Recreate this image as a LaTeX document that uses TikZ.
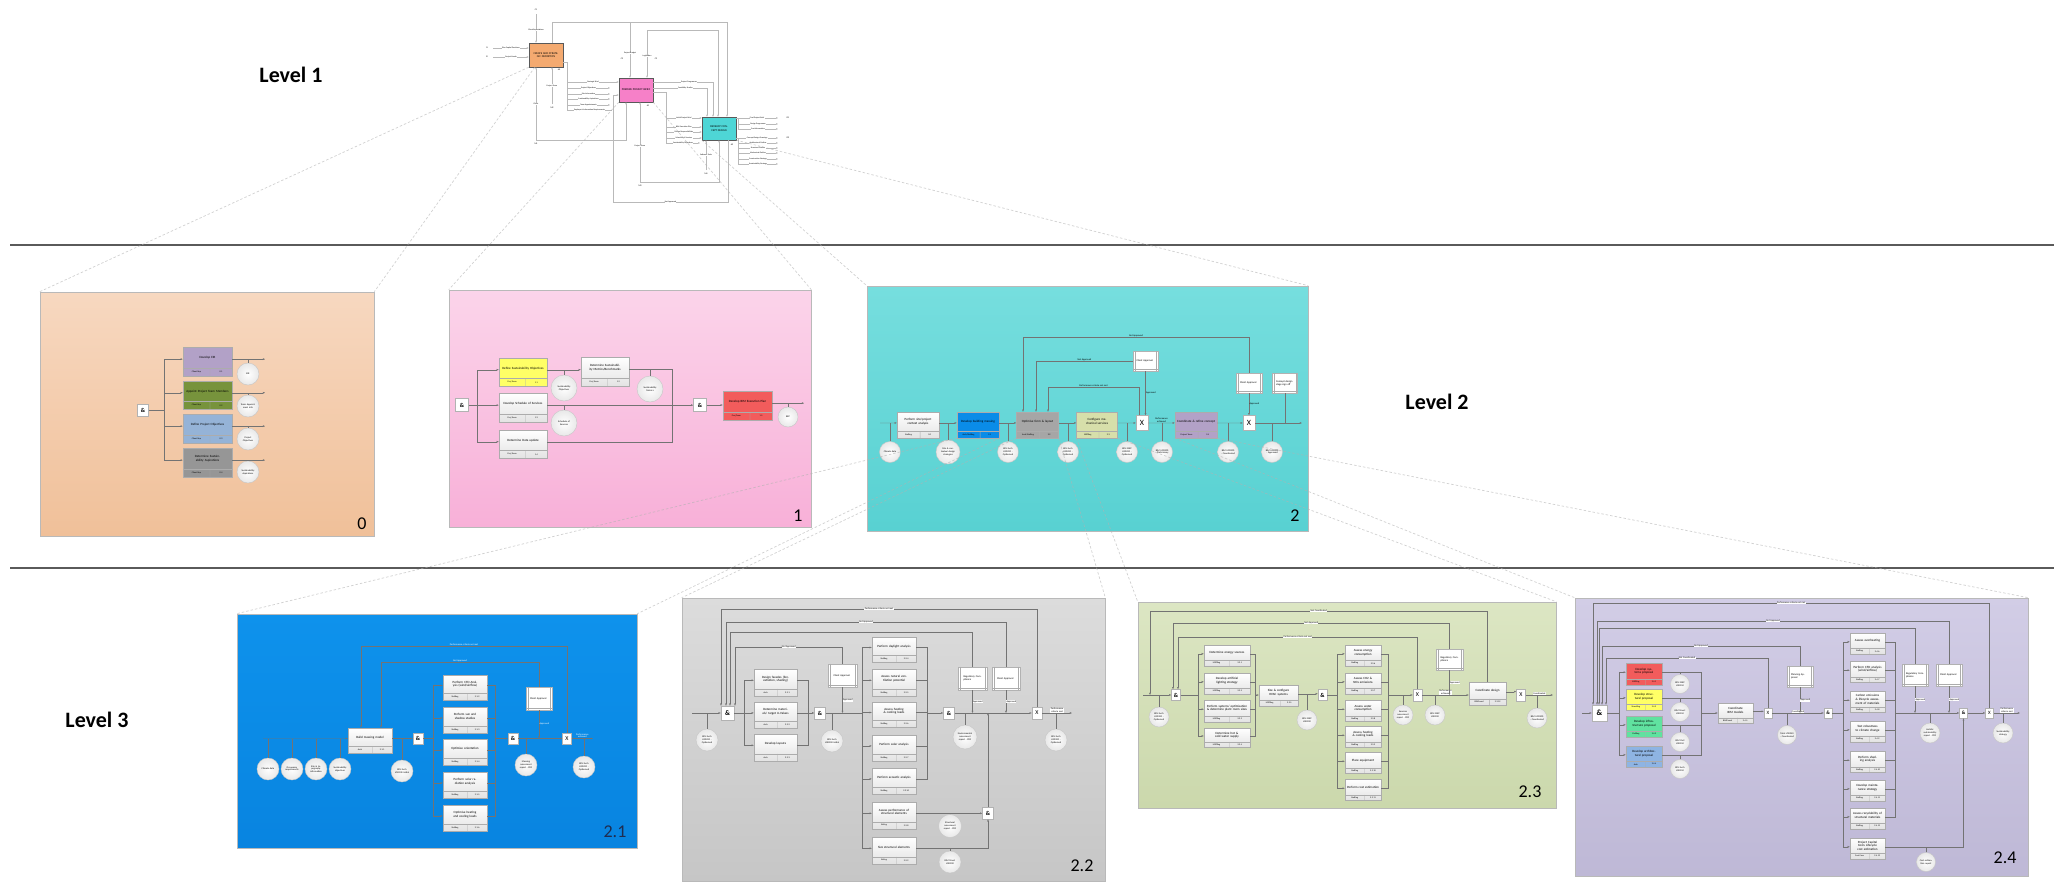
\documentclass[tikz,border=0pt]{standalone}
\usepackage{fontspec}
\setmainfont{Carlito}
\usepackage{tikz}
\usetikzlibrary{calc,shapes,arrows,arrows.meta,backgrounds,fit}

\definecolor{p0top}{RGB}{247,216,192}
\definecolor{p0bot}{RGB}{240,192,153}
\definecolor{p1top}{RGB}{251,212,234}
\definecolor{p1bot}{RGB}{248,176,216}
\definecolor{p2top}{RGB}{118,222,222}
\definecolor{p2bot}{RGB}{88,209,210}
\definecolor{p21top}{RGB}{14,146,236}
\definecolor{p21bot}{RGB}{8,132,224}
\definecolor{p22top}{RGB}{220,220,220}
\definecolor{p22bot}{RGB}{198,198,198}
\definecolor{p23top}{RGB}{220,230,195}
\definecolor{p23bot}{RGB}{203,216,172}
\definecolor{p24top}{RGB}{210,205,230}
\definecolor{p24bot}{RGB}{190,184,214}
\definecolor{actpurple}{RGB}{178,161,199}
\definecolor{actgreen}{RGB}{119,147,60}
\definecolor{actblue}{RGB}{149,179,215}
\definecolor{actgray}{RGB}{150,150,150}
\definecolor{actyellow}{RGB}{255,255,102}
\definecolor{actred}{RGB}{242,92,92}
\definecolor{actdeep}{RGB}{10,140,232}
\definecolor{actsilver}{RGB}{166,166,166}
\definecolor{actolive}{RGB}{215,223,170}
\definecolor{actmint}{RGB}{96,226,160}
\definecolor{actsteel}{RGB}{142,180,227}
\definecolor{idefor}{RGB}{244,170,112}
\definecolor{idefpk}{RGB}{246,128,200}
\definecolor{idefcy}{RGB}{78,214,214}
\definecolor{navy}{RGB}{31,45,80}
\definecolor{sepgray}{RGB}{90,90,90}

% activity box: name, centre, width, height, fill, text, staff, number
\newcommand{\actbox}[8]{%
  \node[actnode, #5, minimum width=#3, minimum height=#4] (#1) at (#2) {};
  \coordinate (#1-a) at ($(#1.south west)!0.27!(#1.north west)$);
  \coordinate (#1-b) at ($(#1.south east)!0.27!(#1.north east)$);
  \coordinate (#1-m) at ($(#1-a)!0.5!(#1.south west)$);
  \coordinate (#1-n) at ($(#1-b)!0.5!(#1.south east)$);
  \coordinate (#1-i) at ($(#1.north west)!0.42!(#1.south west)$);
  \coordinate (#1-o) at ($(#1.north east)!0.42!(#1.south east)$);
  \pgfmathsetmacro{\acttw}{#3-4}
  \node[acttext, text width=\acttw pt] (#1-t) at ($(#1.north)!0.37!(#1.south)$) {#6};
  \draw[actrule] (#1-a) -- (#1-b);
  \draw[actrule] ($(#1-a)!0.55!(#1-b)$) -- ($(#1.south west)!0.55!(#1.south east)$);
  \node[celltext] (#1-s) at ($(#1-m)!0.275!(#1-n)$) {#7};
  \node[celltext] (#1-k) at ($(#1-m)!0.775!(#1-n)$) {#8};
}
% referent box: name, centre, text, width, height
\newcommand{\refdoc}[5]{%
  \node[refbox, minimum width=#4, minimum height=#5] (#1) at (#2) {#3};
  \draw[actrule] ([xshift=2pt]#1.north west) -- ([xshift=2pt]#1.south west);
  \draw[actrule] ([xshift=-2pt]#1.north east) -- ([xshift=-2pt]#1.south east);
  \draw[actrule] ([yshift=2pt]#1.south west) -- ([yshift=2pt]#1.south east);
}

\begin{document}
\begin{tikzpicture}[x=1pt, y=-1pt]

  \tikzstyle{sepline}=[draw=sepgray, line width=2.4pt]
  \tikzstyle{levellab}=[font=\fontsize{22}{24}\selectfont\bfseries]
  \tikzstyle{panel}=[draw=gray!55, line width=0.6pt, rectangle, inner sep=0pt]
  \tikzstyle{panlab}=[font=\fontsize{18}{18}\selectfont, inner sep=0pt]
  \tikzstyle{zoomline}=[draw=gray!60, dash pattern=on 2.5pt off 2pt, line width=0.7pt, opacity=0.6]
  \tikzstyle{idefbox}=[draw=gray!70!black, rectangle, line width=0.3pt, minimum width=34, minimum height=24, inner sep=0pt, text width=30pt, align=center, font=\fontsize{2.8}{3.2}\selectfont]
  \tikzstyle{ideflab}=[font=\fontsize{2}{2.4}\selectfont, fill=white, inner sep=0.3pt]
  \tikzstyle{idefnum}=[font=\fontsize{2.2}{2.4}\selectfont, inner sep=0pt]
  \tikzstyle{ideflow}=[draw=gray!55, line width=0.2pt]
  \tikzstyle{idefptr}=[ideflow, -{Latex[length=2pt,width=1.6pt]}]
  \tikzstyle{actnode}=[draw=gray!65, rectangle, line width=0.3pt, inner sep=0pt]
  \tikzstyle{plainact}=[top color=white, bottom color=gray!22]
  \tikzstyle{acttext}=[font=\fontsize{3.2}{3.7}\selectfont, align=center, inner sep=0pt]
  \tikzstyle{actrule}=[draw=gray!65, line width=0.3pt]
  \tikzstyle{celltext}=[font=\fontsize{2.2}{2.4}\selectfont, inner sep=0pt]
  \tikzstyle{datnode}=[circle, draw=gray!45, inner color=white, outer color=gray!18, minimum size=21pt, inner sep=0pt, text width=16pt, align=center, font=\fontsize{2.4}{2.8}\selectfont]
  \tikzstyle{junction}=[rectangle, draw=gray!60, fill=white, minimum width=11pt, minimum height=12pt, inner sep=0pt, font=\fontsize{6}{6}\selectfont\bfseries]
  \tikzstyle{refbox}=[rectangle, draw=gray!60, fill=white, inner sep=0pt, text width=18pt, align=left, font=\fontsize{2.6}{3}\selectfont]
  \tikzstyle{flow}=[draw=black!55, line width=0.28pt]
  \tikzstyle{pointer}=[flow, -{Latex[length=2.2pt,width=1.8pt]}]
  \tikzstyle{looplab}=[font=\fontsize{2.4}{2.8}\selectfont, inner sep=0.4pt]

  \useasboundingbox (0,0) rectangle (2054,894);

  % separators
  \draw[sepline] (10,245) -- (2054,245);
  \draw[sepline] (10,568) -- (2054,568);
  \node[levellab] (lev1) at (291,75) {Level 1};
  \node[levellab] (lev2) at (1437,402) {Level 2};
  \node[levellab] (lev3) at (97,720) {Level 3};

  % panels
  \node[panel, top color=p0top, bottom color=p0bot, minimum width=334, minimum height=244] (pan0) at (207,414) {};
  \node[panel, top color=p1top, bottom color=p1bot, minimum width=362, minimum height=237] (pan1) at (630,408.5) {};
  \node[panel, top color=p2top, bottom color=p2bot, minimum width=441, minimum height=245] (pan2) at (1087.5,408.5) {};
  \node[panel, top color=p21top, bottom color=p21bot, minimum width=400, minimum height=234] (pan21) at (437,731) {};
  \node[panel, top color=p22top, bottom color=p22bot, minimum width=423, minimum height=283] (pan22) at (893.5,739.5) {};
  \node[panel, top color=p23top, bottom color=p23bot, minimum width=418, minimum height=206] (pan23) at (1347,705) {};
  \node[panel, top color=p24top, bottom color=p24bot, minimum width=453, minimum height=278] (pan24) at (1801.5,737) {};

  % ---------------- level 1 ----------------
  \node[idefbox, fill=idefor] (a0) at (546,55) {CREATE AND STRATEGIC DEFINITION};
  \node[idefbox, fill=idefpk] (a1) at (636,90) {PREPARE PROJECT BRIEF};
  \node[idefbox, fill=idefcy, minimum height=23] (a2) at (719,128.5) {DEVELOP CONCEPT DESIGN};
  \node[idefnum] (a0n) at (559,70) {A0};
  \node[idefnum] (a1n) at (648,106) {A1};
  \node[idefnum] (a2n) at (732,145) {A2};

  \coordinate (a0i1) at (493,48);
  \coordinate (a0i2) at (493,57);
  \coordinate (a0c1) at (536,14);
  \coordinate (bus1) at (552,22);
  \coordinate (bus2) at (727,22);
  \coordinate (bus3) at (630,22);
  \coordinate (bus4) at (647,30);
  \coordinate (bus5) at (718,30);
  \coordinate (a0o) at (567,62);
  \coordinate (a0ob) at (567,110);
  \coordinate (a0e2) at (610,88);
  \coordinate (a0e3) at (610,94);
  \coordinate (a0e4) at (610,99);
  \coordinate (a0e5) at (610,105);
  \coordinate (a0e6) at (612,110);
  \coordinate (a1o) at (666,92);
  \coordinate (a1e5) at (700,143);
  \coordinate (a2o1) at (738,118);
  \coordinate (a2o2) at (738,138);
  \coordinate (a2e1) at (778,118);
  \coordinate (a2e2) at (778,124);
  \coordinate (a2e3) at (778,129);
  \coordinate (a2e4) at (778,138);
  \coordinate (a2e5) at (778,143);
  \coordinate (a2e6) at (778,148);
  \coordinate (a2e7) at (778,153);
  \coordinate (a2e8) at (778,159);
  \coordinate (a2e9) at (778,164);
  \coordinate (a0m1) at (536,140);
  \coordinate (a0m2) at (552,104);
  \coordinate (a1m1) at (640,182);
  \coordinate (a2m1) at (706,170);
  \coordinate (fb1) at (613,202);

  \node[idefnum] (ti1) at (487,48) {I1};
  \node[idefnum] (ti2) at (487,57) {I2};
  \node[idefnum] (tc1) at (536,10) {C1};
  \node[idefnum] (tc2) at (622,59) {C2};
  \node[idefnum] (tc3) at (656,59) {C3};
  \node[idefnum] (tm1) at (536,144) {M1};
  \node[idefnum] (tm2) at (552,108) {M2};
  \node[idefnum] (tm3) at (640,186) {M3};
  \node[idefnum] (tm4) at (706,174) {M4};
  \node[idefnum] (to1) at (788,118) {O1};
  \node[idefnum] (to2) at (788,138) {O2};

  \draw[idefptr] (a0i1) -- node[ideflab]{Plan Capital Decisions} (a0i1 -| a0.west);
  \draw[idefptr] (a0i2) -- node[ideflab]{Project Needs} (a0i2 -| a0.west);
  \draw[idefptr] (a0c1) -- node[ideflab, pos=0.55]{Client Expectations} (a0c1 |- a0.north);
  \draw[ideflow] (bus1 |- a0.north) -- (bus1) -- (bus2);
  \draw[idefptr] (bus2) -- (bus2 |- a2.north);
  \draw[idefptr] (bus3) -- node[ideflab, pos=0.55]{Project Budget} (bus3 |- a1.north);
  \draw[idefptr] (bus4) -- node[ideflab, pos=0.55]{Legislation} (bus4 |- a1.north);
  \draw[idefptr] (bus4) -- (bus5) -- (bus5 |- a2.north);
  \draw[ideflow] (a0.east |- a0o) -- (a0o) -- (a0ob);
  \draw[idefptr] (a0o) |- node[ideflab, pos=0.75]{Strategic Brief} ([yshift=8pt]a1.west);
  \draw[idefptr] (a0o) |- node[ideflab, pos=0.75]{Project Objectives} (a0e2);
  \draw[idefptr] (a0o) |- node[ideflab, pos=0.75]{Site Information} (a0e3);
  \draw[idefptr] (a0o) |- node[ideflab, pos=0.75]{Sustainability Aspirations} (a0e4);
  \draw[idefptr] (a0o) |- node[ideflab, pos=0.75]{Team Appointments} (a0e5);
  \draw[ideflow] (a0o) |- node[ideflab, pos=0.75]{Employer's Information Requirements} (a0e6);
  \draw[idefptr] ([yshift=8pt]a1.east) -| node[ideflab, pos=0.3]{Project Programme} ([xshift=-6pt]a2.north);
  \draw[idefptr] ([yshift=2pt]a1.east) -| node[ideflab, pos=0.3]{Feasibility Studies} ([xshift=-12pt]a2.north);
  \draw[ideflow] ([yshift=-2pt]a1.east) -- (a1o);
  \draw[idefptr] (a1o) |- node[ideflab, pos=0.75]{Initial Project Brief} ([yshift=10.5pt]a2.west);
  \draw[idefptr] (a1o) |- node[ideflab, pos=0.75]{BIM Execution Plan} ([yshift=1.5pt]a2.west);
  \draw[idefptr] (a1o) |- node[ideflab, pos=0.75]{Design Responsibilities} ([yshift=-3.5pt]a2.west);
  \draw[idefptr] (a1o) |- node[ideflab, pos=0.75]{Schedule of Services} ([yshift=-9.5pt]a2.west);
  \draw[idefptr] (a1o) |- node[ideflab, pos=0.75]{Sustainability Objectives} (a1e5);
  \draw[idefptr] ([yshift=10.5pt]a2.east) -- node[ideflab]{Final Project Brief} (a2e1);
  \draw[ideflow] (a2o1) -- (a2o1 |- a2e3);
  \draw[idefptr] (a2o1) |- node[ideflab, pos=0.75]{Design Programme} (a2e2);
  \draw[idefptr] (a2o1) |- node[ideflab, pos=0.75]{Cost Information} (a2e3);
  \draw[idefptr] ([yshift=-9.5pt]a2.east) -- node[ideflab]{Concept Design Drawings} (a2e4);
  \draw[idefptr] (a2o2) |- node[ideflab, pos=0.75]{Architectural Outline} (a2e5);
  \draw[idefptr] (a2o2) |- node[ideflab, pos=0.75]{Structural Outline} (a2e6);
  \draw[idefptr] (a2o2) |- node[ideflab, pos=0.75]{Mechanical Outline} (a2e7);
  \draw[idefptr] (a2o2) |- node[ideflab, pos=0.75]{Construction Strategy} (a2e8);
  \draw[idefptr] (a2o2) |- node[ideflab, pos=0.75]{Sustainability Strategy} (a2e9);
  \draw[idefptr] (a0m1) -- node[ideflab]{Client} (a0m1 |- a0.south);
  \draw[idefptr] (a0m1) -| ([xshift=-10pt]a1.south);
  \draw[idefptr] (a0m2) -- node[ideflab]{Project Team} (a0m2 |- a0.south);
  \draw[idefptr] (a1m1) -- node[ideflab, pos=0.45]{Project Team} ([xshift=4pt]a1.south);
  \draw[idefptr] (a1m1) -| (a2.south);
  \draw[idefptr] (a2m1) -- node[ideflab]{Software Tools} ([xshift=-13pt]a2.south);
  \draw[idefptr] ([xshift=9pt]a2.south) |- node[ideflab, pos=0.75]{Not Approved} (fb1) |- ([yshift=-5pt]a1.west);

  % ---------------- panel 0 ----------------
  \node[junction] (p0j) at (143,410) {\&};
  \coordinate (p0f) at (164,410);
  \actbox{p0b1}{207.5,361.5}{49}{29}{fill=actpurple}{Develop EIR}{Client Rep}{0.1}
  \actbox{p0b2}{207.5,395}{49}{28}{fill=actgreen}{Appoint Project Team Members}{Client Rep}{0.2}
  \actbox{p0b3}{207.5,428.5}{49}{29}{fill=actblue}{Define Project Objectives}{Client Rep}{0.3}
  \actbox{p0b4}{207.5,462.5}{49}{29}{fill=actgray}{Determine Sustainability Aspirations}{Client Rep}{0.4}
  \node[datnode, minimum size=22pt] (p0c1) at (248,374) {EIR};
  \node[datnode, minimum size=22pt] (p0c2) at (248,406) {Team Appointment Info};
  \node[datnode, minimum size=22pt] (p0c3) at (248,439) {Project Objectives};
  \node[datnode, minimum size=22pt] (p0c4) at (248,472) {Sustainability Aspirations};
  \coordinate (p0e1) at ($(p0b1-o)+(33,0)$);
  \coordinate (p0e2) at ($(p0b2-o)+(33,0)$);
  \coordinate (p0e3) at ($(p0b3-o)+(33,0)$);
  \coordinate (p0e4) at ($(p0b4-o)+(33,0)$);
  \node[panlab] (p0n) at (362,524) {0};

  \draw[flow] (p0j) -- (p0f);
  \draw[pointer] (p0f) |- (p0b1-i);
  \draw[pointer] (p0f) |- (p0b2-i);
  \draw[pointer] (p0f) |- (p0b3-i);
  \draw[pointer] (p0f) |- (p0b4-i);
  \draw[pointer] (p0b1-o) -- (p0e1);
  \draw[pointer] (p0b2-o) -- (p0e2);
  \draw[pointer] (p0b3-o) -- (p0e3);
  \draw[pointer] (p0b4-o) -- (p0e4);
  \draw[flow] (p0c1) -- (p0c1 |- p0b1-o);
  \draw[flow] (p0c2) -- (p0c2 |- p0b2-o);
  \draw[flow] (p0c3) -- (p0c3 |- p0b3-o);
  \draw[flow] (p0c4) -- (p0c4 |- p0b4-o);

  % ---------------- panel 1 ----------------
  \node[junction, minimum width=13pt, minimum height=13pt] (p1j1) at (462,405) {\&};
  \coordinate (p1f) at (477,405);
  \actbox{p1b1}{523,372}{48}{28}{fill=actyellow}{Define Sustainability Objectives}{Proj Team}{1.1}
  \actbox{p1b3}{523,407.5}{48}{29}{plainact}{Develop Schedule of Services}{Proj Team}{1.3}
  \actbox{p1b4}{523,444}{48}{28}{plainact}{Determine Data update}{Proj Team}{1.4}
  \actbox{p1b2}{605,371.5}{48}{29}{plainact}{Determine Sustainability Metrics/Benchmarks}{Proj Team}{1.2}
  \actbox{p1b5}{747.5,405.5}{49}{29}{fill=actred}{Develop BIM Execution Plan}{Proj Team}{1.5}
  \node[junction, minimum width=13pt, minimum height=13pt] (p1j2) at (700,405) {\&};
  \coordinate (p1m) at (672,405);
  \node[datnode, minimum size=26pt, text width=19pt] (p1c1) at (564,388) {Sustainability Objectives};
  \node[datnode, minimum size=26pt, text width=19pt] (p1c2) at (650,389) {Sustainability Metrics};
  \node[datnode, minimum size=26pt, text width=19pt] (p1c3) at (564,423) {Schedule of Services};
  \node[datnode, minimum size=20pt] (p1c4) at (788,417) {BEP};
  \coordinate (p1e) at ($(p1b5-o)+(32,0)$);
  \node[panlab] (p1n) at (798,516) {1};

  \draw[flow] (p1j1) -- (p1f);
  \draw[pointer] (p1f) |- (p1b1-i);
  \draw[pointer] (p1f) |- (p1b3-i);
  \draw[pointer] (p1f) |- (p1b4-i);
  \draw[pointer] (p1b1-o) -- (p1b1-o -| p1b2.west);
  \draw[flow] (p1b2-o) -| (p1m);
  \draw[flow] (p1b4-o) -| (p1m);
  \draw[pointer] (p1b3-o) -- (p1b3-o -| p1j2.west);
  \draw[pointer] (p1j2) -- (p1j2 -| p1b5.west);
  \draw[pointer] (p1b5-o) -- (p1e);
  \draw[flow] (p1c1) -- (p1c1 |- p1b1-o);
  \draw[flow] (p1c2) -- (p1c2 |- p1b2-o);
  \draw[flow] (p1c3) -- (p1c3 |- p1b3-o);
  \draw[flow] (p1c4) -- (p1c4 |- p1b5-o);

  % ---------------- panel 2 ----------------
  \coordinate (p2s) at (880,423);
  \coordinate (p2e) at (1302,423);
  \actbox{p2b0}{918,425}{42}{26}{plainact}{Perform site/project context analysis}{Staffing}{2.0}
  \actbox{p2b1}{978,425}{42}{26}{fill=actdeep}{Develop building massing}{Arch/Staffing}{2.1}
  \actbox{p2b2}{1037.5,425}{42}{26}{fill=actsilver}{Optimise form \& layout}{Arch/Staffing}{2.2}
  \actbox{p2b3}{1097,425}{41}{26}{fill=actolive}{Configure mechanical services}{MEPEng}{2.3}
  \actbox{p2b4}{1196,425}{42}{26}{fill=actpurple}{Coordinate \& refine concept}{Project Team}{2.4}
  \node[junction, minimum width=12pt, minimum height=15pt, font=\fontsize{8}{8}\selectfont] (p2x1) at (1142,423) {X};
  \node[junction, minimum width=12pt, minimum height=15pt, font=\fontsize{8}{8}\selectfont] (p2x2) at (1249,423) {X};
  \refdoc{p2d1}{1145.5,361}{Client Approval}{25}{20}
  \refdoc{p2d2}{1249,383}{Client Approval}{26}{20}
  \refdoc{p2d3}{1285,383}{Concept design stage sign off}{25}{20}
  \node[datnode] (p2c1) at (890,452) {Climate data};
  \node[datnode, minimum size=24pt] (p2c2) at (948,452) {Site \& contextual design strategies};
  \node[datnode] (p2c3) at (1008,452) {BIM Arch LOD200 - Optimised};
  \node[datnode] (p2c4) at (1068,452) {BIM Arch LOD200 - Optimised};
  \node[datnode] (p2c5) at (1127,452) {BIM MEP LOD200 - Optimised};
  \node[datnode] (p2c6) at (1162,452) {BIM LOD200 - Preliminary};
  \node[datnode] (p2c7) at (1228,452) {BIM LOD200 - Coordinated};
  \node[datnode] (p2c8) at (1272,452) {BIM LOD200 - Approved};
  \coordinate (p2l1) at (1023,337);
  \coordinate (p2l2) at (1036,361);
  \coordinate (p2l3) at (1048,387);
  \node[panlab] (p2n) at (1295,516) {2};

  \draw[pointer] (p2s) -- (p2b0-i);
  \draw[pointer] (p2b0-o) -- (p2b1-i);
  \draw[pointer] (p2b1-o) -- (p2b2-i);
  \draw[pointer] (p2b2-o) -- (p2b3-i);
  \draw[pointer] (p2b3-o) -- (p2x1);
  \draw[pointer] (p2x1) -- node[above, looplab, text width=13pt, align=center]{Performance achieved} (p2b4-i);
  \draw[pointer] (p2b4-o) -- (p2x2);
  \draw[pointer] (p2x2) -- (p2e);
  \draw[pointer] (p2d1) -- node[right, looplab]{Approved} (p2d1 |- p2x1.north);
  \draw[pointer] (p2d2) -- node[right, looplab]{Approved} (p2d2 |- p2x2.north);
  \draw[flow] (p2d3) -- (p2d3 |- p2e);
  \draw[pointer] (p2d2.north) |- node[pos=0.75, above, looplab]{Not Approved} (p2l1) -- (p2l1 |- p2b2.north);
  \draw[pointer] (p2d1.west) -- node[above, looplab]{Not Approved} (p2l2) -- (p2l2 |- p2b2.north);
  \draw[pointer] ([xshift=-3pt]p2x1.north) |- node[pos=0.75, above, looplab]{Performance criteria not met} (p2l3) -- (p2l3 |- p2b2.north);
  \draw[flow] (p2c1) -- (p2c1 |- p2s);
  \draw[flow] (p2c2) -- (p2c2 |- p2s);
  \draw[flow] (p2c3) -- (p2c3 |- p2s);
  \draw[flow] (p2c4) -- (p2c4 |- p2s);
  \draw[flow] (p2c5) -- (p2c5 |- p2s);
  \draw[flow] (p2c6) -- (p2c6 |- p2s);
  \draw[flow] (p2c7) -- (p2c7 |- p2s);
  \draw[flow] (p2c8) -- (p2c8 |- p2s);

  % ---------------- panel 2.1 ----------------
  \coordinate (p21s) at (263,738.5);
  \actbox{p21b1}{370,740.5}{44}{25}{plainact}{Build massing model}{Arch}{2.1.1}
  \node[junction, minimum width=10pt, minimum height=11pt] (p21j1) at (418,738.5) {\&};
  \coordinate (p21f) at (433,738.5);
  \actbox{p21b2}{465,687.5}{44}{25}{plainact}{Perform CFD Analysis (wind/airflow)}{Staffing}{2.1.2}
  \actbox{p21b3}{465,720}{44}{26}{plainact}{Perform sun and shadow studies}{Staffing}{2.1.3}
  \actbox{p21b4}{465,752}{44}{26}{plainact}{Optimise orientation}{Staffing}{2.1.4}
  \actbox{p21b5}{465,785}{44}{26}{plainact}{Perform solar radiation analysis}{Staffing}{2.1.5}
  \actbox{p21b6}{465,818}{44}{26}{plainact}{Optimise heating and cooling loads}{Staffing}{2.1.6}
  \coordinate (p21m) at (495,738.5);
  \node[junction, minimum width=10pt, minimum height=11pt] (p21j2) at (513,738.5) {\&};
  \node[junction, minimum width=9pt, minimum height=11pt, font=\fontsize{6}{6}\selectfont] (p21x) at (567,738.5) {X};
  \coordinate (p21e) at (593,738.5);
  \refdoc{p21d}{539,698.5}{Client Approval}{26}{23}
  \node[datnode, minimum size=22pt] (p21c1) at (268,769) {Climate data};
  \node[datnode, minimum size=22pt] (p21c2) at (292,769) {Occupancy requirements};
  \node[datnode, minimum size=22pt] (p21c3) at (316,769) {Site \& topography information};
  \node[datnode, minimum size=22pt] (p21c4) at (340,769) {Sustainability objectives};
  \node[datnode, minimum size=22pt] (p21c5) at (402,771) {BIM Arch LOD100 Initial};
  \node[datnode, minimum size=22pt] (p21c6) at (526,765) {Massing assessment report - PDF};
  \node[datnode, minimum size=22pt] (p21c7) at (584,767) {BIM Arch LOD200 - Optimised};
  \coordinate (p21l1) at (361,646);
  \coordinate (p21l2) at (381,662);
  \node[panlab, text=navy] (p21n) at (615,832) {2.1};

  \draw[pointer] (p21s) -- (p21b1-i);
  \draw[pointer] (p21b1-o) -- (p21b1-o -| p21j1.west);
  \draw[flow] (p21j1) -- (p21f);
  \draw[pointer] (p21f) |- (p21b2-i);
  \draw[pointer] (p21f) |- (p21b3-i);
  \draw[pointer] (p21f) |- (p21b4-i);
  \draw[pointer] (p21f) |- (p21b5-i);
  \draw[pointer] (p21f) |- (p21b6-i);
  \draw[flow] (p21b2-o) -| (p21m);
  \draw[flow] (p21b3-o) -| (p21m);
  \draw[flow] (p21b4-o) -| (p21m);
  \draw[flow] (p21b5-o) -| (p21m);
  \draw[flow] (p21b6-o) -| (p21m);
  \draw[pointer] (p21m) -- (p21j2);
  \draw[pointer] (p21j2) -- (p21x);
  \draw[pointer] (p21x) -- node[above, looplab, text=white, text width=13pt, align=center]{Performance achieved} (p21e);
  \draw[pointer] (p21d) -- node[right, looplab, text=white]{Approved} (p21d |- p21s);
  \draw[pointer] (p21x.north) |- node[pos=0.75, above, looplab, text=white]{Performance criteria not met} (p21l1) -- (p21l1 |- p21b1.north);
  \draw[pointer] (p21d.north) |- node[pos=0.75, above, looplab, text=white]{Not Approved} (p21l2) -- (p21l2 |- p21b1.north);
  \draw[flow] (p21c1) -- (p21c1 |- p21s);
  \draw[flow] (p21c2) -- (p21c2 |- p21s);
  \draw[flow] (p21c3) -- (p21c3 |- p21s);
  \draw[flow] (p21c4) -- (p21c4 |- p21s);
  \draw[flow] (p21c5) -- (p21c5 |- p21s);
  \draw[flow] (p21c6) -- (p21c6 |- p21s);
  \draw[flow] (p21c7) -- (p21c7 |- p21s);

  % ---------------- panel 2.2 ----------------
  \coordinate (p22s) at (692,713);
  \node[junction, minimum width=13pt, minimum height=14pt, font=\fontsize{7}{7}\selectfont\bfseries] (p22j1) at (727.5,713) {\&};
  \coordinate (p22f1) at (744,713);
  \actbox{p22b1}{775.5,682.5}{43}{27}{plainact}{Design facades (fenestration, shading)}{Arch}{2.2.1}
  \actbox{p22b2}{775.5,715}{43}{26}{plainact}{Determine materials/ target U-Values}{Arch}{2.2.2}
  \actbox{p22b3}{775.5,747.5}{43}{27}{plainact}{Develop layouts}{Arch}{2.2.3}
  \coordinate (p22m1) at (808,713);
  \node[junction] (p22j2) at (820,713) {\&};
  \refdoc{p22d1}{842.5,675.5}{Client Approval}{29}{23}
  \coordinate (p22f2) at (862,713);
  \actbox{p22b4}{894,649.5}{44}{25}{plainact}{Perform daylight analysis}{Staffing}{2.2.4}
  \actbox{p22b5}{894,682.5}{44}{27}{plainact}{Assess natural ventilation potential}{Staffing}{2.2.5}
  \actbox{p22b6}{894,714.5}{44}{25}{plainact}{Assess heating \& cooling loads}{Staffing}{2.2.6}
  \actbox{p22b7}{894,748}{44}{26}{plainact}{Perform solar analysis}{Staffing}{2.2.7}
  \actbox{p22b8}{894,781}{44}{26}{plainact}{Perform acoustic analysis}{Staffing}{2.2.10}
  \actbox{p22b9}{894,815.5}{44}{27}{plainact}{Assess performance of structural elements}{StrEng}{2.2.8}
  \actbox{p22b10}{894,850.5}{44}{27}{plainact}{Size structural elements}{StrEng}{2.2.9}
  \coordinate (p22m2) at (927,713);
  \node[junction] (p22j3) at (949,713) {\&};
  \node[junction] (p22j4) at (988,813) {\&};
  \refdoc{p22d2}{972.5,678.5}{Regulatory Compliance}{29}{23}
  \refdoc{p22d3}{1006,678.5}{Client Approval}{28}{23}
  \node[junction, minimum width=10pt, minimum height=12pt, font=\fontsize{6}{6}\selectfont] (p22x) at (1037,713) {X};
  \coordinate (p22e) at (1072,713);
  \node[datnode, minimum size=22pt] (p22c1) at (707,740) {BIM Arch LOD200 - Optimised};
  \node[datnode, minimum size=22pt] (p22c2) at (832,741) {BIM Arch LOD300 Initial};
  \node[datnode, minimum size=24pt] (p22c3) at (965,737) {Environmental assessment report - PDF};
  \node[datnode, minimum size=23pt] (p22c4) at (950,826) {Structural assessment report - PDF};
  \node[datnode, minimum size=22pt] (p22c5) at (950,862) {BIM Struct LOD300};
  \node[datnode, minimum size=22pt] (p22c6) at (1056,740) {BIM Arch LOD300 - Optimised};
  \coordinate (p22l1) at (721,609);
  \coordinate (p22l2) at (726,622);
  \coordinate (p22l3) at (730,632);
  \coordinate (p22l4) at (735,647);
  \node[panlab] (p22n) at (1082,866) {2.2};

  \draw[pointer] (p22s) -- (p22j1);
  \draw[flow] (p22j1) -- (p22f1);
  \draw[pointer] (p22f1) |- (p22b1-i);
  \draw[pointer] (p22f1) |- (p22b2-i);
  \draw[pointer] (p22f1) |- (p22b3-i);
  \draw[flow] (p22b1-o) -| (p22m1);
  \draw[flow] (p22b2-o) -| (p22m1);
  \draw[flow] (p22b3-o) -| (p22m1);
  \draw[pointer] (p22m1) -- (p22j2);
  \draw[flow] (p22j2) -- (p22f2);
  \draw[pointer] (p22f2) |- (p22b4-i);
  \draw[pointer] (p22f2) |- (p22b5-i);
  \draw[pointer] (p22f2) |- (p22b6-i);
  \draw[pointer] (p22f2) |- (p22b7-i);
  \draw[pointer] (p22f2) |- (p22b8-i);
  \draw[pointer] (p22f2) |- (p22b9-i);
  \draw[pointer] (p22f2) |- (p22b10-i);
  \draw[flow] (p22b4-o) -| (p22m2);
  \draw[flow] (p22b5-o) -| (p22m2);
  \draw[flow] (p22b6-o) -| (p22m2);
  \draw[flow] (p22b7-o) -| (p22m2);
  \draw[flow] (p22b8-o) -| (p22m2);
  \draw[pointer] (p22m2) -- (p22j3);
  \draw[pointer] (p22b9-o) -- (p22b9-o -| p22j4.west);
  \draw[pointer] (p22b10-o) -| (p22j4);
  \draw[pointer] (p22j4) -- (p22j4 |- p22s);
  \draw[pointer] (p22j3) -- (p22x);
  \draw[pointer] (p22x) -- node[above, looplab, fill=white, text width=13pt, align=center]{Performance criteria met} (p22e);
  \draw[pointer] (p22d1) -- node[right, looplab, fill=white]{Approved} (p22d1 |- p22s);
  \draw[pointer] (p22d2) -- node[right, looplab, fill=white]{Approved} (p22d2 |- p22s);
  \draw[pointer] (p22d3) -- node[right, looplab, fill=white]{Approved} (p22d3 |- p22s);
  \draw[pointer] (p22x.north) |- node[pos=0.75, looplab, fill=white]{Performance criteria not met} (p22l1) -- (p22l1 |- p22j1.north);
  \draw[pointer] (p22d3.north) |- node[pos=0.75, looplab, fill=white]{Not Approved} (p22l2) -- (p22l2 |- p22j1.north);
  \draw[pointer] (p22d2.north) |- (p22l3) -- (p22l3 |- p22j1.north);
  \draw[pointer] (p22d1.north) |- node[pos=0.75, looplab, fill=white]{Not Approved} (p22l4) -- (p22l4 |- p22j1.north);
  \draw[flow] (p22c1) -- (p22c1 |- p22s);
  \draw[flow] (p22c2) -- (p22c2 |- p22s);
  \draw[flow] (p22c3) -- (p22c3 |- p22s);
  \draw[flow] (p22c4) -- (p22c4 |- p22b9-o);
  \draw[flow] (p22c5) -- (p22c5 |- p22b10-o);
  \draw[flow] (p22c6) -- (p22c6 |- p22s);

  % ---------------- panel 2.3 ----------------
  \coordinate (p23s) at (1143,695);
  \node[junction, minimum width=9pt, minimum height=11pt] (p23j1) at (1176,695) {\&};
  \coordinate (p23f1) at (1198,695);
  \actbox{p23b1}{1227,655.5}{46}{21}{plainact}{Determine energy sources}{MEPEng}{2.3.1}
  \actbox{p23b2}{1227,683.5}{46}{21}{plainact}{Develop artificial lighting strategy}{MEPEng}{2.3.2}
  \actbox{p23b3}{1227,711}{46}{22}{plainact}{Perform systems' optimisation \& determine plant room sizes}{MEPEng}{2.3.3}
  \actbox{p23b4}{1227,737.5}{46}{19}{plainact}{Determine hot \& cold water supply}{MEPEng}{2.3.4}
  \coordinate (p23m1) at (1255,695);
  \actbox{p23b5}{1278.5,695.5}{39}{21}{plainact}{Size \& configure HVAC systems}{MEPEng}{2.3.5}
  \node[junction, minimum width=9pt, minimum height=11pt] (p23j2) at (1322.5,695) {\&};
  \coordinate (p23f2) at (1337,695);
  \actbox{p23b6}{1363,655.5}{36}{21}{plainact}{Assess energy consumption}{Staffing}{2.3.6}
  \actbox{p23b7}{1363,683.5}{36}{21}{plainact}{Assess CO2 \& NOx emissions}{Staffing}{2.3.7}
  \actbox{p23b8}{1363,711}{36}{21}{plainact}{Assess water consumption}{Staffing}{2.3.8}
  \actbox{p23b9}{1363,737}{36}{21}{plainact}{Assess heating \& cooling loads}{Staffing}{2.3.9}
  \actbox{p23b10}{1363,763}{36}{21}{plainact}{Place equipment}{Staffing}{2.3.10}
  \actbox{p23b11}{1363,790}{36}{21}{plainact}{Perform cost estimation}{Staffing}{2.3.11}
  \coordinate (p23m2) at (1388,695);
  \node[junction, minimum width=9pt, minimum height=12pt, font=\fontsize{6}{6}\selectfont] (p23x1) at (1417.5,695) {X};
  \refdoc{p23d1}{1449.5,659.5}{Regulatory Compliance}{27}{21}
  \actbox{p23b12}{1487.5,693.5}{37}{23}{plainact}{Coordinate design}{BIMCoord}{2.3.12}
  \node[junction, minimum width=9pt, minimum height=12pt, font=\fontsize{6}{6}\selectfont] (p23x2) at (1521,695) {X};
  \coordinate (p23e) at (1553,695);
  \node[datnode, minimum size=20pt] (p23c1) at (1159,717) {BIM Arch LOD300 - Optimised};
  \node[datnode, minimum size=20pt] (p23c2) at (1307,720) {BIM MEP LOD300};
  \node[datnode, minimum size=20pt] (p23c3) at (1403,715) {Services assessment report - PDF};
  \node[datnode, minimum size=20pt] (p23c4) at (1435,715) {BIM MEP LOD300};
  \node[datnode, minimum size=20pt] (p23c5) at (1537,718) {BIM LOD300 - Coordinated};
  \coordinate (p23l1) at (1150,611);
  \coordinate (p23l2) at (1173,623);
  \coordinate (p23l3) at (1178,637);
  \node[panlab] (p23n) at (1530,792) {2.3};

  \draw[pointer] (p23s) -- (p23j1);
  \draw[flow] (p23j1) -- (p23f1);
  \draw[pointer] (p23f1) |- (p23b1-i);
  \draw[pointer] (p23f1) |- (p23b2-i);
  \draw[pointer] (p23f1) |- (p23b3-i);
  \draw[pointer] (p23f1) |- (p23b4-i);
  \draw[flow] (p23b1-o) -| (p23m1);
  \draw[flow] (p23b2-o) -| (p23m1);
  \draw[flow] (p23b3-o) -| (p23m1);
  \draw[flow] (p23b4-o) -| (p23m1);
  \draw[pointer] (p23m1) -- (p23m1 -| p23b5.west);
  \draw[pointer] (p23b5-o) -- (p23b5-o -| p23j2.west);
  \draw[flow] (p23j2) -- (p23f2);
  \draw[pointer] (p23f2) |- (p23b6-i);
  \draw[pointer] (p23f2) |- (p23b7-i);
  \draw[pointer] (p23f2) |- (p23b8-i);
  \draw[pointer] (p23f2) |- (p23b9-i);
  \draw[pointer] (p23f2) |- (p23b10-i);
  \draw[pointer] (p23f2) |- (p23b11-i);
  \draw[flow] (p23b6-o) -| (p23m2);
  \draw[flow] (p23b7-o) -| (p23m2);
  \draw[flow] (p23b8-o) -| (p23m2);
  \draw[flow] (p23b9-o) -| (p23m2);
  \draw[flow] (p23b10-o) -| (p23m2);
  \draw[flow] (p23b11-o) -| (p23m2);
  \draw[pointer] (p23m2) -- (p23x1);
  \draw[pointer] (p23x1) -- node[above, looplab, fill=white, text width=13pt, align=center]{Performance achieved} (p23x1 -| p23b12.west);
  \draw[pointer] (p23b12-o) -- (p23b12-o -| p23x2.west);
  \draw[pointer] (p23x2) -- node[above, looplab, fill=white]{Coordinated} (p23e);
  \draw[pointer] (p23d1) -- node[right, looplab, fill=white]{Approved} (p23d1 |- p23s);
  \draw[pointer] (p23b12.north) |- node[pos=0.75, looplab, fill=white]{Not Coordinated} (p23l1) -- (p23l1 |- p23s);
  \draw[pointer] (p23d1.north) |- node[pos=0.75, looplab, fill=white]{Not Approved} (p23l2) -- (p23l2 |- p23j1.north);
  \draw[pointer] (p23x1.north) |- node[pos=0.75, looplab, fill=white]{Performance criteria not met} (p23l3) -- (p23l3 |- p23j1.north);
  \draw[flow] (p23c1) -- (p23c1 |- p23s);
  \draw[flow] (p23c2) -- (p23c2 |- p23s);
  \draw[flow] (p23c3) -- (p23c3 |- p23s);
  \draw[flow] (p23c4) -- (p23c4 |- p23s);
  \draw[flow] (p23c5) -- (p23c5 |- p23s);

  % ---------------- panel 2.4 ----------------
  \coordinate (p24s) at (1582,713);
  \node[junction, minimum width=15pt, minimum height=16pt, font=\fontsize{8}{8}\selectfont\bfseries] (p24j1) at (1599.5,713) {\&};
  \coordinate (p24f1) at (1619,713);
  \actbox{p24b1}{1644,674}{36}{22}{fill=actred}{Develop systems proposal}{MEPEng}{2.4.1}
  \actbox{p24b2}{1644,699.5}{36}{21}{fill=actyellow}{Develop structural proposal}{StructEng}{2.4.2}
  \actbox{p24b3}{1644,726.5}{36}{21}{fill=actmint}{Develop infrastructure proposal}{CivilEng}{2.4.3}
  \actbox{p24b4}{1644,756.5}{36}{21}{fill=actsteel}{Develop architectural proposal}{Arch}{2.4.4}
  \coordinate (p24m1) at (1701,713);
  \actbox{p24b5}{1735.5,713}{35}{20}{plainact}{Coordinate BIM models}{BIMCoord}{2.4.5}
  \node[junction, minimum width=8pt, minimum height=10pt, font=\fontsize{5}{5}\selectfont] (p24x1) at (1768,713) {X};
  \refdoc{p24d1}{1800,676.5}{Planning Approval}{26}{21}
  \node[junction, minimum width=8pt, minimum height=10pt, font=\fontsize{5}{5}\selectfont\bfseries] (p24j2) at (1828,713) {\&};
  \coordinate (p24f2) at (1843,713);
  \actbox{p24b6}{1867.5,643.5}{35}{21}{plainact}{Assess overheating}{Staffing}{2.4.6}
  \actbox{p24b7}{1867.5,672}{35}{21}{plainact}{Perform CFD analysis (wind/airflow)}{Staffing}{2.4.7}
  \actbox{p24b8}{1867.5,702}{35}{21}{plainact}{Carbon emissions \& lifecycle assessment of materials}{Staffing}{2.4.8}
  \actbox{p24b9}{1867.5,731.5}{35}{21}{plainact}{Test robustness to climate change}{Staffing}{2.4.9}
  \actbox{p24b10}{1867.5,762}{35}{21}{plainact}{Perform shading analysis}{Staffing}{2.4.10}
  \actbox{p24b11}{1867.5,790.5}{35}{21}{plainact}{Develop maintenance strategy}{Staffing}{2.4.11}
  \actbox{p24b12}{1867.5,818.5}{35}{21}{plainact}{Assess recyclability of structural materials}{Staffing}{2.4.12}
  \actbox{p24b13}{1867.5,848.5}{35}{21}{plainact}{Project Capital Costs Lifecycle cost estimation}{Cost Cons}{2.4.13}
  \coordinate (p24m2) at (1895,713);
  \refdoc{p24d2}{1915,675}{Regulatory Compliance}{26}{22}
  \refdoc{p24d3}{1949,675}{Client Approval}{26}{22}
  \node[junction, minimum width=8pt, minimum height=10pt, font=\fontsize{5}{5}\selectfont\bfseries] (p24j3) at (1963.5,713) {\&};
  \node[junction, minimum width=8pt, minimum height=10pt, font=\fontsize{5}{5}\selectfont] (p24x2) at (1989.5,713) {X};
  \coordinate (p24e) at (2020,713);
  \node[datnode, minimum size=19pt] (p24c1) at (1680,684) {BIM MEP LOD350};
  \node[datnode, minimum size=19pt] (p24c2) at (1680,712) {BIM Struct LOD350};
  \node[datnode, minimum size=19pt] (p24c3) at (1680,742) {BIM Civil LOD350};
  \node[datnode, minimum size=19pt] (p24c4) at (1680,769) {BIM Arch LOD350};
  \node[datnode, minimum size=19pt] (p24c5) at (1787,735) {Total LOD350 - Coordinated};
  \node[datnode, minimum size=20pt] (p24c6) at (1930,733) {Holistic sustainability report - PDF};
  \node[datnode, minimum size=19pt] (p24c7) at (1926,862) {Cost estimation report};
  \node[datnode, minimum size=20pt] (p24c8) at (2003,733) {Sustainability strategy};
  \coordinate (p24l1) at (1593,603);
  \coordinate (p24l2) at (1597,621);
  \coordinate (p24l3) at (1599,628);
  \coordinate (p24l4) at (1602,646);
  \coordinate (p24l5) at (1606,658);
  \node[panlab] (p24n) at (2005,858) {2.4};

  \draw[pointer] (p24s) -- (p24j1);
  \draw[flow] (p24j1) -- (p24f1);
  \draw[pointer] (p24f1) |- (p24b1-i);
  \draw[pointer] (p24f1) |- (p24b2-i);
  \draw[pointer] (p24f1) |- (p24b3-i);
  \draw[pointer] (p24f1) |- (p24b4-i);
  \draw[flow] (p24b1-o) -| (p24m1);
  \draw[flow] (p24b2-o) -| (p24m1);
  \draw[flow] (p24b3-o) -| (p24m1);
  \draw[flow] (p24b4-o) -| (p24m1);
  \draw[pointer] (p24m1) -- (p24m1 -| p24b5.west);
  \draw[pointer] (p24b5-o) -- (p24b5-o -| p24x1.west);
  \draw[pointer] (p24x1) -- node[above, looplab, fill=white]{Coordinated} (p24j2);
  \draw[flow] (p24j2) -- (p24f2);
  \draw[pointer] (p24f2) |- (p24b6-i);
  \draw[pointer] (p24f2) |- (p24b7-i);
  \draw[pointer] (p24f2) |- (p24b8-i);
  \draw[pointer] (p24f2) |- (p24b9-i);
  \draw[pointer] (p24f2) |- (p24b10-i);
  \draw[pointer] (p24f2) |- (p24b11-i);
  \draw[pointer] (p24f2) |- (p24b12-i);
  \draw[pointer] (p24f2) |- (p24b13-i);
  \draw[flow] (p24b6-o) -| (p24m2);
  \draw[flow] (p24b7-o) -| (p24m2);
  \draw[flow] (p24b8-o) -| (p24m2);
  \draw[flow] (p24b9-o) -| (p24m2);
  \draw[flow] (p24b10-o) -| (p24m2);
  \draw[flow] (p24b11-o) -| (p24m2);
  \draw[flow] (p24b12-o) -| (p24m2);
  \draw[pointer] (p24m2) -- (p24j3);
  \draw[pointer] (p24b13-o) -| (p24j3);
  \draw[pointer] (p24j3) -- (p24x2);
  \draw[pointer] (p24x2) -- node[above, looplab, fill=white, text width=13pt, align=center]{Performance criteria met} (p24e);
  \draw[pointer] (p24d1) -- node[right, looplab, fill=white]{Approved} (p24d1 |- p24s);
  \draw[pointer] (p24d2) -- node[right, looplab, fill=white]{Approved} (p24d2 |- p24s);
  \draw[pointer] (p24d3) -- node[right, looplab, fill=white]{Approved} (p24d3 |- p24s);
  \draw[pointer] (p24x2.north) |- node[pos=0.75, looplab, fill=white]{Performance criteria not met} (p24l1) -- (p24l1 |- p24j1.north);
  \draw[pointer] (p24d3.north) |- node[pos=0.75, looplab, fill=white]{Not Approved} (p24l2) -- (p24l2 |- p24j1.north);
  \draw[pointer] (p24d2.north) |- (p24l3) -- (p24l3 |- p24j1.north);
  \draw[pointer] (p24d1.north) |- node[pos=0.75, looplab, fill=white]{Not Approved} (p24l4) -- (p24l4 |- p24j1.north);
  \draw[pointer] (p24x1.north) |- node[pos=0.75, looplab, fill=white]{Not Coordinated} (p24l5) -- (p24l5 |- p24j1.north);
  \draw[flow] (p24c1) -- (p24c1 |- p24b1-o);
  \draw[flow] (p24c2) -- (p24c2 |- p24b2-o);
  \draw[flow] (p24c3) -- (p24c3 |- p24b3-o);
  \draw[flow] (p24c4) -- (p24c4 |- p24b4-o);
  \draw[flow] (p24c5) -- (p24c5 |- p24s);
  \draw[flow] (p24c6) -- (p24c6 |- p24s);
  \draw[flow] (p24c7) -- (p24c7 |- p24b13-o);
  \draw[flow] (p24c8) -- (p24c8 |- p24s);

  % zoom lines
  \draw[zoomline] (a0.south west) -- (pan0.north west);
  \draw[zoomline] ([xshift=6pt]a0.south west) -- (pan0.north east);
  \draw[zoomline] (a1.south west) -- (pan1.north west);
  \draw[zoomline] (a1.south east) -- (pan1.north east);
  \draw[zoomline] (a2.south west) -- (pan2.north west);
  \draw[zoomline] (a2.south east) -- (pan2.north east);
  \draw[zoomline] (p2b1.south west) -- (pan21.north west);
  \draw[zoomline] (p2b1.south east) -- (pan21.north east);
  \draw[zoomline] (p2b2.south west) -- (pan22.north west);
  \draw[zoomline] (p2b2.south east) -- (pan22.north east);
  \draw[zoomline] (p2b3.south west) -- (pan23.north west);
  \draw[zoomline] (p2b3.south east) -- (pan23.north east);
  \draw[zoomline] (p2b4.south west) -- (pan24.north west);
  \draw[zoomline] (p2b4.south east) -- (pan24.north east);

\end{tikzpicture}
\end{document}
